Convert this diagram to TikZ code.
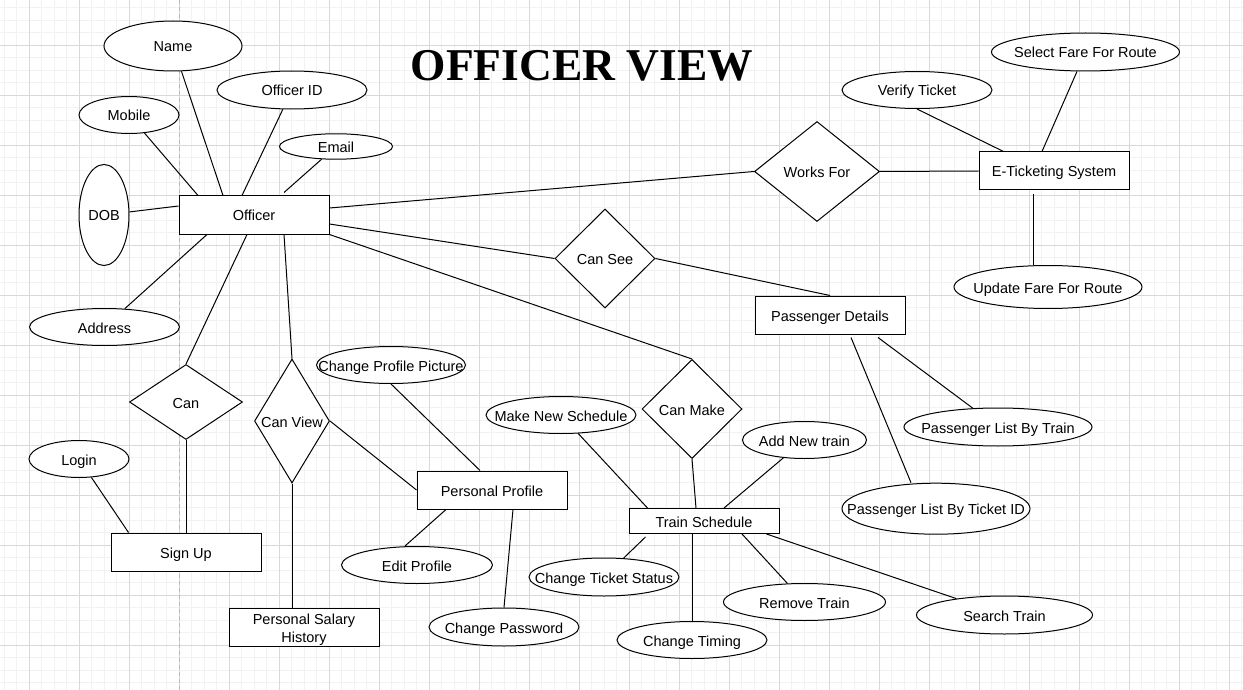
\documentclass[tikz,border=0pt]{standalone}
\usepackage{fontspec}
\setmainfont{Liberation Sans}
\newfontfamily\titlefont{Liberation Serif}
\usetikzlibrary{shapes.geometric,calc}
\definecolor{gridminor}{RGB}{242,242,242}
\definecolor{gridmajor}{RGB}{216,216,216}
\definecolor{pagebreak}{RGB}{185,185,185}
\newcommand{\erfont}{\fontsize{14.5}{18}\selectfont}
\tikzset{
  entity/.style={rectangle, draw=black, fill=white, line width=1pt, align=center, minimum width=150pt, minimum height=38pt, inner sep=0pt, text height=15pt, text depth=3pt, font=\erfont},
  attrib/.style={ellipse, draw=black, fill=white, line width=1pt, inner sep=0pt, text height=15pt, text depth=3pt, font=\erfont, execute at begin node={\hbox to 0pt\bgroup\hss}, execute at end node={\hss\egroup}},
  relation/.style={diamond, draw=black, fill=white, line width=1pt, inner sep=0pt, text height=15pt, text depth=3pt, font=\erfont, execute at begin node={\hbox to 0pt\bgroup\hss}, execute at end node={\hss\egroup}},
  dims/.style 2 args={minimum width=#1pt, minimum height=#2pt},
  link/.style={line width=1pt, draw=black}
}

\begin{document}
\begin{tikzpicture}[x=1pt, y=-1pt]
\useasboundingbox (0,0) rectangle (1243,690);
\fill[white] (0,0) rectangle (1243,690);
% grid paper
\foreach \gx in {0,...,99} \draw[gridminor, line width=1pt] ({4.3+12.5*\gx},0) -- ({4.3+12.5*\gx},690);
\foreach \gy in {0,...,54} \draw[gridminor, line width=1pt] (0,{7.8+12.5*\gy}) -- (1243,{7.8+12.5*\gy});
\foreach \gx in {0,...,24} \draw[gridmajor, line width=1pt] ({29.3+50*\gx},0) -- ({29.3+50*\gx},690);
\foreach \gy in {0,...,12} \draw[gridmajor, line width=1pt] (0,{45.3+50*\gy}) -- (1243,{45.3+50*\gy});
\draw[pagebreak, line width=1pt, dash pattern=on 4pt off 3pt] (179.3,0) -- (179.3,690);

\node[font={\titlefont\bfseries\fontsize{45.5}{50}\selectfont}, anchor=base, inner sep=0pt] (title) at (582,81) {OFFICER VIEW};

% entities
\node[entity] (officer) at (254,215) {Officer};
\node[entity] (etick) at (1054,171) {E-Ticketing System};
\node[entity] (pdet) at (830,315) {Passenger Details};
\node[entity] (signup) at (186,552) {Sign Up};
\node[entity, text height=31pt, text depth=0pt] (salary) at (304,627) {Personal Salary\\History};
\node[entity] (pprof) at (492,490) {Personal Profile};
\node[entity, minimum height=25pt] (tsched) at (704,521) {Train Schedule};

% relations
\node[relation, dims={125}{100}] (works) at (817,171.5) {Works For};
\node[relation, dims={100}{99}] (cansee) at (605,258.5) {Can See};
\node[relation, dims={113}{75}] (can) at (186,402) {Can};
\node[relation, dims={75}{124}] (canview) at (292,421) {Can View};
\node[relation, dims={100}{99}] (canmake) at (692,409) {Can Make};

% attributes
\node[attrib, dims={138}{50}] (name) at (173,46) {Name};
\node[attrib, dims={150}{38}] (offid) at (292,90) {Officer ID};
\node[attrib, dims={100}{37}] (mobile) at (129,115) {Mobile};
\node[attrib, dims={113}{25}] (email) at (336,146.5) {Email};
\node[attrib, dims={50}{101}] (dob) at (104,215) {DOB};
\node[attrib, dims={150}{37}] (address) at (104.5,327) {Address};
\node[attrib, dims={100}{37}] (login) at (79,459) {Login};
\node[attrib, dims={149}{37}] (cpp) at (391,365) {Change Profile Picture};
\node[attrib, dims={151}{37}] (editp) at (417,565) {Edit Profile};
\node[attrib, dims={150}{38}] (chpass) at (504,627) {Change Password};
\node[attrib, dims={150}{37}] (mns) at (561,415) {Make New Schedule};
\node[attrib, dims={124}{37}] (addtrain) at (804.5,440) {Add New train};
\node[attrib, dims={150}{38}] (cts) at (604,577) {Change Ticket Status};
\node[attrib, dims={150}{37}] (timing) at (692,640) {Change Timing};
\node[attrib, dims={162}{37}] (remove) at (804.5,602) {Remove Train};
\node[attrib, dims={176}{38}] (search) at (1004.5,615) {Search Train};
\node[attrib, dims={188}{38}] (pltrain) at (998,427) {Passenger List By Train};
\node[attrib, dims={188}{51}] (plticket) at (936,508.7) {Passenger List By Ticket ID};
\node[attrib, dims={150}{37}] (verify) at (917,90) {Verify Ticket};
\node[attrib, dims={188}{38}] (selfare) at (1085.5,52) {Select Fare For Route};
\node[attrib, dims={188}{43}] (upfare) at (1048,287) {Update Fare For Route};

% officer links
\draw[link] (mobile) -- ([xshift=-56pt]officer.north);
\draw[link] (name) -- ([xshift=-31pt]officer.north);
\draw[link] (offid) -- ([xshift=-12pt]officer.north);
\draw[link] (email) -- ([xshift=30pt, yshift=3pt]officer.north);
\draw[link] (dob) -- ([yshift=9pt]officer.west);
\draw[link] (address) -- ([xshift=-47pt]officer.south);
\draw[link] ([xshift=-7pt]officer.south) -- (can.north);
\draw[link] ([xshift=30pt]officer.south) -- (canview.north);
\draw[link] ([yshift=7pt]officer.east) -- (works.west);
\draw[link] ([yshift=-9pt]officer.east) -- (cansee.west);
\draw[link] (officer.south east) -- (canmake.north);

% sign up and profile
\draw[link] (can.south) -- (signup.north);
\draw[link] (login) -- ([xshift=18pt]signup.north west);
\draw[link] (canview.south) -- ([xshift=-12pt]salary.north);
\draw[link] (canview.east) -- (pprof.west);
\draw[link] (cpp.south) -- ([xshift=-12pt]pprof.north);
\draw[link] ([xshift=-46pt]pprof.south) -- ([xshift=-12pt]editp.north);
\draw[link] ([xshift=21pt]pprof.south) -- (chpass.north);

% train schedule
\draw[link] (mns) -- ([xshift=19pt]tsched.north west);
\draw[link] (canmake.south) -- ([xshift=-8pt]tsched.north);
\draw[link] (addtrain) -- ([xshift=20pt]tsched.north);
\draw[link] (cts) -- ([xshift=17pt, yshift=-3pt]tsched.south west);
\draw[link] ([xshift=-12pt]tsched.south) -- (timing.north);
\draw[link] (remove) -- ([xshift=38pt]tsched.south);
\draw[link] (search) -- ([xshift=-13pt]tsched.south east);

% passenger details
\draw[link] (cansee.east) -- (pdet.north);
\draw[link] (pltrain) -- ([xshift=48pt, yshift=-3pt]pdet.south);
\draw[link] ([xshift=21pt, yshift=-3pt]pdet.south) -- ([xshift=-25pt]plticket.north);

% e-ticketing system
\draw[link] (works.east) -- (etick.west);
\draw[link] (verify.south) -- ([xshift=25pt]etick.north west);
\draw[link] (selfare) -- ([xshift=-12pt]etick.north);
\draw[link] ([xshift=-21pt, yshift=-4pt]etick.south) -- ([xshift=-15pt]upfare.north);
\end{tikzpicture}
\end{document}
